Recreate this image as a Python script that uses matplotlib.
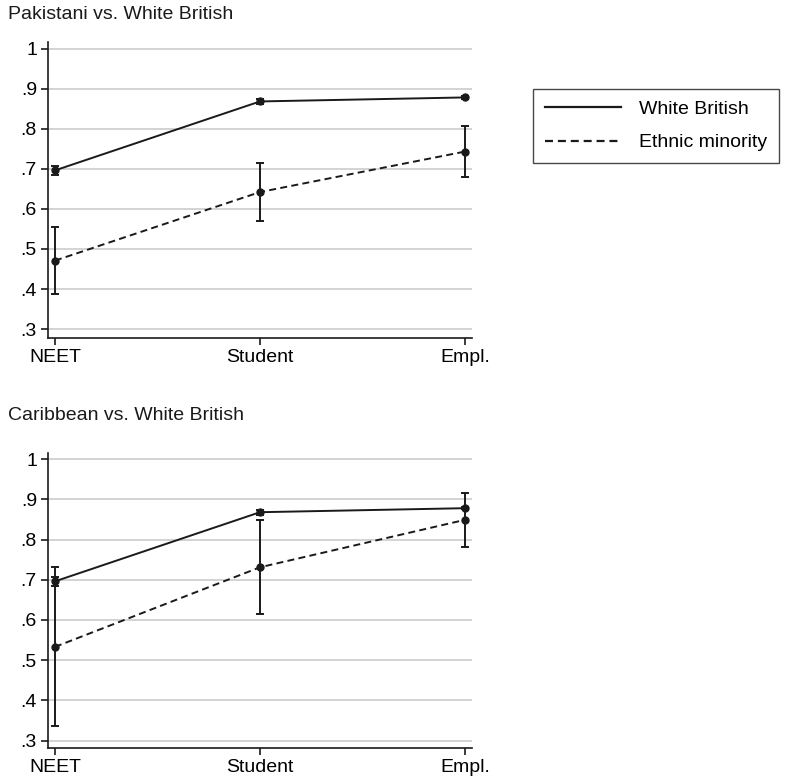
import numpy as np
import matplotlib.pyplot as plt
from matplotlib.lines import Line2D

categories = ["NEET", "Student", "Empl."]
titles = ["Pakistani vs. White British", "Caribbean vs. White British"]

# White British (same in both panels)
wb_mean = [0.696, 0.868, 0.878]
wb_low = [0.685, 0.862, 0.875]
wb_high = [0.708, 0.874, 0.881]

# Ethnic minority: Pakistani
pak_mean = [0.471, 0.642, 0.743]
pak_low = [0.387, 0.570, 0.679]
pak_high = [0.555, 0.715, 0.807]

# Ethnic minority: Caribbean
car_mean = [0.533, 0.731, 0.849]
car_low = [0.335, 0.615, 0.782]
car_high = [0.731, 0.848, 0.917]

yticks = [0.3, 0.4, 0.5, 0.6, 0.7, 0.8, 0.9, 1.0]
ytick_labels = [".3", ".4", ".5", ".6", ".7", ".8", ".9", "1"]

W, H = 787, 782
fig = plt.figure(figsize=(W / 100, H / 100), dpi=100)
plt.rcParams['font.family'] = ['Liberation Sans', 'DejaVu Sans']
FS = 14
DASH = (0, (3.6, 2.2))

# (axes top px, axes bottom px, title y px, data, ylim)
panels = [
    (41.7, 338, 14.5, pak_mean, pak_low, pak_high, (0.278, 1.017)),
    (452.7, 748, 415, car_mean, car_low, car_high, (0.2815, 1.016)),
]

x = np.arange(len(categories))
for i, (top, bot, ty, m, lo, hi, ylim) in enumerate(panels):
    ax = fig.add_axes([48 / W, 1 - bot / H, (472 - 48) / W, (bot - top) / H])
    for y in yticks:
        ax.axhline(y, color="#cccccc", lw=1.2, zorder=0)
    wb_err = [np.array(wb_mean) - np.array(wb_low), np.array(wb_high) - np.array(wb_mean)]
    em_err = [np.array(m) - np.array(lo), np.array(hi) - np.array(m)]
    ax.errorbar(x, wb_mean, yerr=wb_err, color="#1a1a1a", lw=1.4, ls="-",
                marker="o", ms=5, capsize=3, elinewidth=1.4, capthick=1.4)
    ax.errorbar(x, m, yerr=em_err, color="#1a1a1a", lw=1.4, ls=DASH,
                marker="o", ms=5, capsize=3, elinewidth=1.4, capthick=1.4)
    ax.set_xlim(-0.034, 2.034)
    ax.set_ylim(*ylim)
    ax.set_xticks(x)
    ax.set_xticklabels(categories, fontsize=FS)
    ax.set_yticks(yticks)
    ax.set_yticklabels(ytick_labels, fontsize=FS)
    for s in ["top", "right"]:
        ax.spines[s].set_visible(False)
    for s in ["left", "bottom"]:
        ax.spines[s].set_linewidth(1.2)
        ax.spines[s].set_color("#1a1a1a")
    ax.tick_params(direction="out", length=5, width=1.2, color="#1a1a1a", pad=3)
    fig.text(8 / W, 1 - ty / H, titles[i], fontsize=FS, ha="left", va="center",
             color="#1a1a1a")

leg_handles = [Line2D([], [], color="#1a1a1a", lw=1.6, ls="-"),
               Line2D([], [], color="#1a1a1a", lw=1.6, ls=DASH)]
leg = fig.legend(leg_handles, ["White British", "Ethnic minority"],
                 loc="upper left", bbox_to_anchor=(533 / W, 1 - 89 / H),
                 borderaxespad=0, fontsize=FS, frameon=True, fancybox=False,
                 edgecolor="#1a1a1a", handlelength=3.9, handletextpad=0.95,
                 borderpad=0.6, labelspacing=0.8)
leg.get_frame().set_linewidth(1.0)

fig.savefig("out.png", dpi=100)
